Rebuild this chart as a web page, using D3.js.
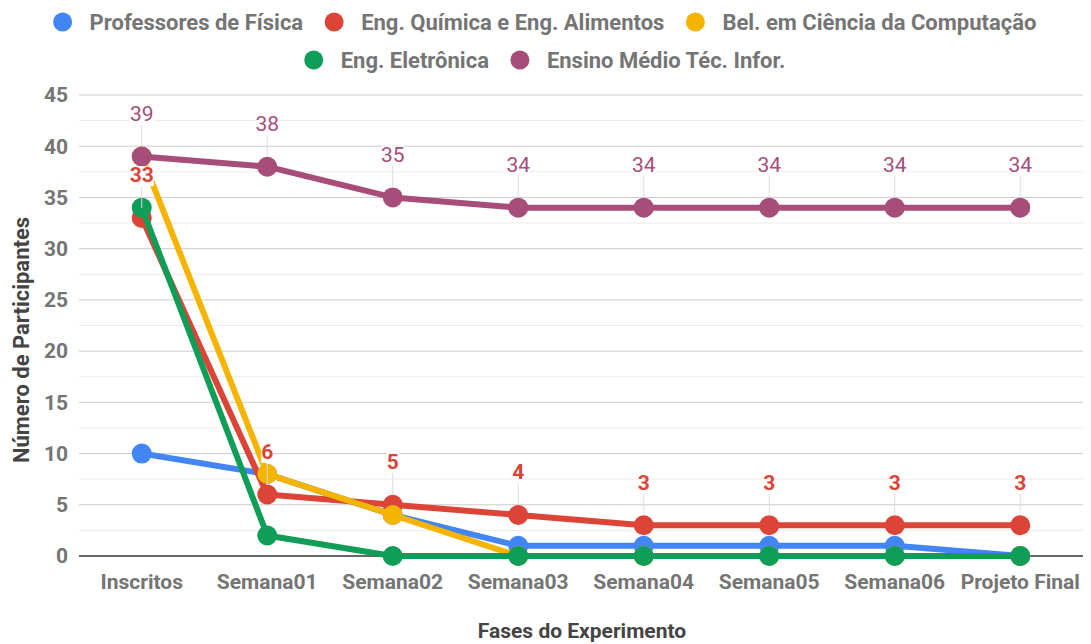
<!DOCTYPE html>
<meta charset="utf-8">
<script src="https://d3js.org/d3.v7.min.js"></script>
<style>
  body { margin: 0; background: #fff; }
  text { font-family: Roboto, sans-serif; }
</style>
<div id="chart"></div>
<script>
// categories and series
var fases = ["Inscritos", "Semana01", "Semana02", "Semana03", "Semana04", "Semana05", "Semana06", "Projeto Final"];
var fisica = [10, 8, 4, 1, 1, 1, 1, 0];
var quimica = [33, 6, 5, 4, 3, 3, 3, 3];
var computacao = [39, 8, 4, 0, 0, 0, 0, 0];
var eletronica = [34, 2, 0, 0, 0, 0, 0, 0];
var ensinoMedio = [39, 38, 35, 34, 34, 34, 34, 34];
var yTicks = [0, 5, 10, 15, 20, 25, 30, 35, 40, 45];

var series = [
  {name: "Professores de Física", values: fisica, color: "#4285f4", labels: false},
  {name: "Eng. Química e Eng. Alimentos", values: quimica, color: "#db4437", labels: true, weight: 700},
  {name: "Bel. em Ciência da Computação", values: computacao, color: "#f4b400", labels: false},
  {name: "Eng. Eletrônica", values: eletronica, color: "#0f9d58", labels: false},
  {name: "Ensino Médio Téc. Infor.", values: ensinoMedio, color: "#a64d79", labels: true, weight: 400}
];

var W = 1091, H = 644;
var svg = d3.select("#chart").append("svg")
  .attr("width", W).attr("height", H);

var x = d3.scalePoint().domain(fases).range([79, 1083]).padding(0.5);
var y = d3.scaleLinear().domain([0, 45]).range([556, 95]);

// gridlines (major every 5, minor every 2.5)
var minor = d3.range(2.5, 45, 5);
svg.append("g").selectAll("line").data(minor).enter().append("line")
  .attr("x1", 79).attr("x2", 1083)
  .attr("y1", function(d) { return y(d); }).attr("y2", function(d) { return y(d); })
  .style("stroke", "#ebebeb").style("stroke-width", 1);
svg.append("g").selectAll("line").data(yTicks.slice(1)).enter().append("line")
  .attr("x1", 79).attr("x2", 1083)
  .attr("y1", function(d) { return y(d); }).attr("y2", function(d) { return y(d); })
  .style("stroke", "#cccccc").style("stroke-width", 1);
svg.append("line")
  .attr("x1", 79).attr("x2", 1083).attr("y1", y(0)).attr("y2", y(0))
  .style("stroke", "#333").style("stroke-width", 1.5);

// y axis labels
svg.append("g").selectAll("text").data(yTicks).enter().append("text")
  .attr("x", 68).attr("y", function(d) { return y(d); })
  .attr("dy", "0.35em")
  .style("text-anchor", "end").style("font-size", "21px").style("font-weight", 700)
  .style("fill", "#757575")
  .text(function(d) { return d; });

// x axis labels
svg.append("g").selectAll("text").data(fases).enter().append("text")
  .attr("x", function(d) { return x(d); }).attr("y", 582)
  .attr("dy", "0.35em")
  .style("text-anchor", "middle").style("font-size", "21px").style("font-weight", 700)
  .style("fill", "#757575")
  .text(function(d) { return d; });

// axis titles
svg.append("text")
  .attr("x", 582).attr("y", 631).attr("dy", "0.35em")
  .style("text-anchor", "middle").style("font-size", "21px").style("font-weight", 700)
  .style("fill", "#444")
  .text("Fases do Experimento");
svg.append("text")
  .attr("transform", "translate(21,340) rotate(-90)")
  .attr("dy", "0.35em")
  .style("text-anchor", "middle").style("font-size", "22px").style("font-weight", 700)
  .style("fill", "#444")
  .text("Número de Participantes");

// lines and points
var line = d3.line()
  .x(function(d, i) { return x(fases[i]); })
  .y(function(d) { return y(d); });

series.forEach(function(s) {
  var g = svg.append("g");
  g.append("path").datum(s.values)
    .attr("d", line)
    .style("fill", "none").style("stroke", s.color)
    .style("stroke-width", 6).style("stroke-linejoin", "round");
  g.selectAll("circle").data(s.values).enter().append("circle")
    .attr("cx", function(d, i) { return x(fases[i]); })
    .attr("cy", function(d) { return y(d); })
    .attr("r", 10)
    .style("fill", s.color);
});

// data labels with leader lines
series.filter(function(s) { return s.labels; }).forEach(function(s) {
  var g = svg.append("g");
  s.values.forEach(function(v, i) {
    var cx = x(fases[i]), cy = y(v);
    g.append("line")
      .attr("x1", cx).attr("x2", cx).attr("y1", cy - 32).attr("y2", cy - 10)
      .style("stroke", "#dddddd").style("stroke-width", 1);
    var bg = g.append("rect").style("fill", "#fff");
    var t = g.append("text")
      .attr("x", cx).attr("y", cy - 43).attr("dy", "0.35em")
      .style("text-anchor", "middle").style("font-size", "21px")
      .style("font-weight", s.weight)
      .style("fill", s.color)
      .text(v);
    var b = t.node().getBBox();
    bg.attr("x", b.x).attr("y", b.y + 3).attr("width", b.width).attr("height", b.height - 4);
  });
});

// legend, rows centred
var legendRows = [
  {y: 22, items: [0, 1, 2]},
  {y: 60, items: [3, 4]}
];
legendRows.forEach(function(row) {
  var g = svg.append("g");
  var xpos = 0;
  row.items.forEach(function(k) {
    var s = series[k];
    var it = g.append("g").attr("transform", "translate(" + xpos + ",0)");
    it.append("circle").attr("cx", 9).attr("cy", row.y).attr("r", 9.5).style("fill", s.color);
    var t = it.append("text").attr("x", 36).attr("y", row.y).attr("dy", "0.35em")
      .style("font-size", "22px").style("font-weight", 700).style("fill", "#757575")
      .text(s.name);
    xpos += 36 + t.node().getComputedTextLength() + 22;
  });
  var total = xpos - 22;
  g.attr("transform", "translate(" + (545 - total / 2) + ",0)");
});
</script>
